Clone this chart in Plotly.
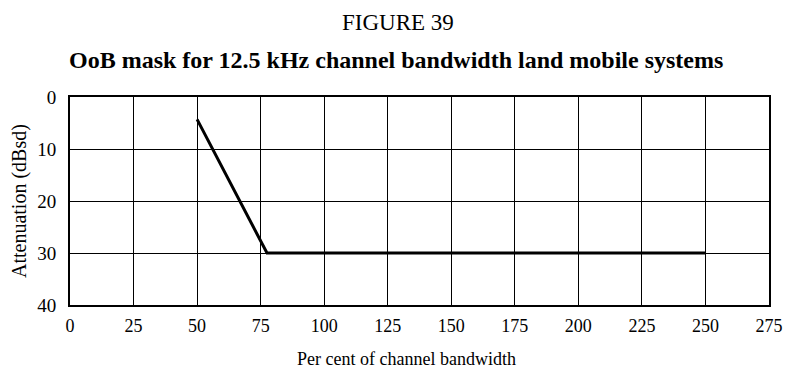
import plotly.graph_objects as go

# Data
x_pct = [50, 77.5, 250]
atten = [4.3, 30, 30]
x_ticks = [0, 25, 50, 75, 100, 125, 150, 175, 200, 225, 250, 275]
y_ticks = [0, 10, 20, 30, 40]

FONT = "Liberation Serif, Times New Roman, serif"

fig = go.Figure()
fig.add_trace(go.Scatter(x=x_pct, y=atten, mode="lines",
                         line=dict(color="black", width=3), showlegend=False,
                         hoverinfo="skip"))

fig.update_layout(
    width=795, height=371,
    margin=dict(l=70, r=14, t=97, b=66),
    paper_bgcolor="white", plot_bgcolor="white",
    font=dict(family=FONT, color="black", size=18),
    showlegend=False,
)
fig.update_xaxes(range=[0, 275], tickvals=x_ticks, ticktext=[str(v) for v in x_ticks],
                 showgrid=True, gridcolor="black", gridwidth=1,
                 showline=True, linecolor="black", linewidth=2, mirror=True,
                 ticks="", zeroline=False, tickfont=dict(size=18),
                 ticklabelstandoff=3, ticklabeloverflow="allow")
fig.update_yaxes(range=[40, 0], tickvals=y_ticks, ticktext=[str(v) for v in y_ticks],
                 showgrid=True, gridcolor="black", gridwidth=1,
                 showline=True, linecolor="black", linewidth=2, mirror=True,
                 ticks="", zeroline=False, tickfont=dict(size=19), ticklabelstandoff=8)

fig.add_annotation(text="FIGURE 39", xref="paper", yref="paper", x=0.469, y=1.0,
                   yanchor="middle", yshift=75, showarrow=False,
                   font=dict(family=FONT, size=23))
fig.add_annotation(text="<b>OoB mask for 12.5 kHz channel bandwidth land mobile systems</b>",
                   xref="paper", yref="paper", x=0.467, y=1.0, yanchor="middle", yshift=37,
                   showarrow=False, font=dict(family=FONT, size=24))
fig.add_annotation(text="Per cent of channel bandwidth", xref="paper", yref="paper",
                   x=0.481, y=0, yanchor="middle", yshift=-54, showarrow=False,
                   font=dict(family=FONT, size=18))
fig.add_annotation(text="Attenuation (dBsd)", xref="paper", yref="paper",
                   x=0, y=0.5, xanchor="center", xshift=-51, textangle=-90, showarrow=False,
                   font=dict(family=FONT, size=20))

# remove the browser's default 8px body margin so the 795x371 figure fits the window
fig.write_html("out.html", config={"displayModeBar": False},
               post_script="document.body.style.margin='0';")
